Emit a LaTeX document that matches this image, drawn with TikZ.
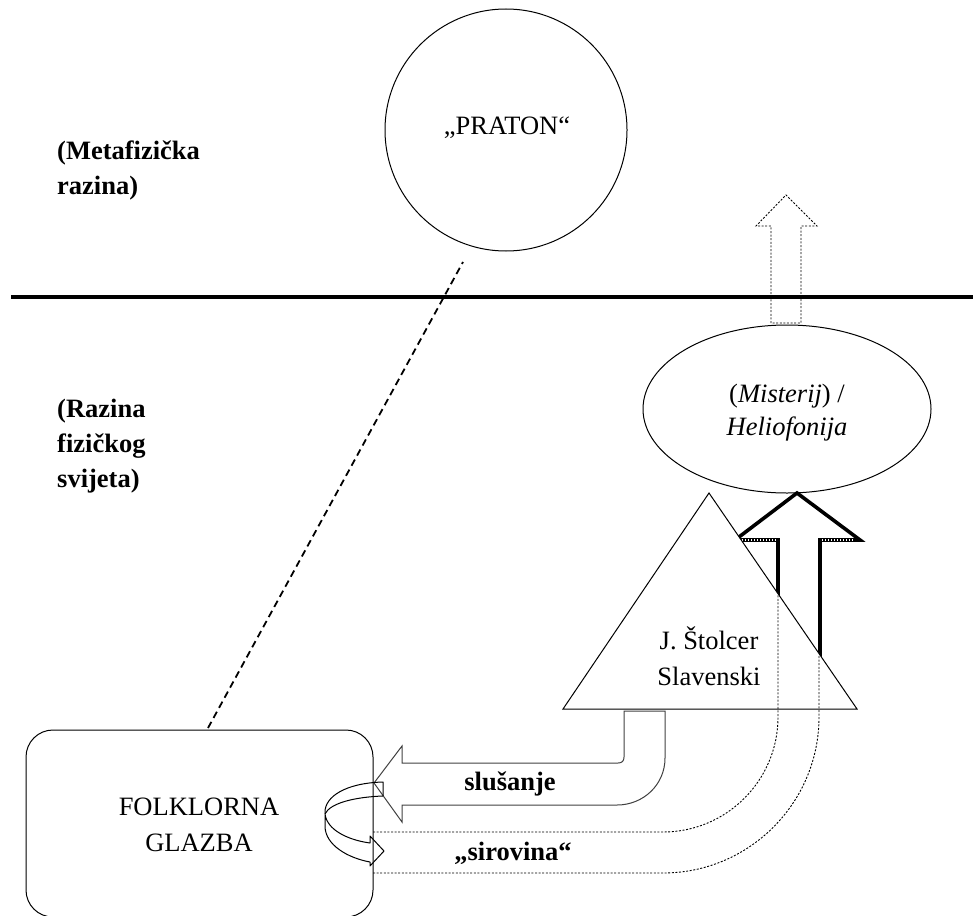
\documentclass[tikz,border=0pt]{standalone}
\usepackage{fontspec}
\setmainfont{Liberation Serif}
\usetikzlibrary{shapes.geometric}
\begin{document}
\begin{tikzpicture}[x=1pt,y=-1pt,
  thinline/.style={line width=1pt},
  dotline/.style={line width=0.9pt, dash pattern=on 2pt off 1.6pt},
  lbl/.style={font=\fontsize{26.5}{35}\selectfont\bfseries, align=left, anchor=west, inner sep=0pt},
  txt/.style={font=\fontsize{26.5}{36}\selectfont, align=center, inner sep=0pt},
  btxt/.style={font=\fontsize{26.5}{36}\selectfont\bfseries, align=center, inner sep=0pt}]
\useasboundingbox (0,0) rectangle (973,915);
% level line
\draw[line width=4pt] (11,297) -- (973,297);
% PRATON
\node[draw, thinline, circle, minimum size=242pt, inner sep=0pt] (praton) at (506,130) {};
\node[txt] (pratontxt) at (507,128) {„PRATON“};
% level labels
\node[lbl] (meta) at (57,170) {(Metafizička\\razina)};
\node[lbl] (fiz) at (57,446) {(Razina\\fizičkog\\svijeta)};
% folk rectangle
\node[draw, thinline, rounded corners=27pt, minimum width=347pt, minimum height=187pt, inner sep=0pt] (folk) at (199.5,823.5) {};
\node[txt] (folktxt) at (199,825) {FOLKLORNA\\GLAZBA};
% dashed link
\coordinate (dtop) at (463,262);
\coordinate (dbot) at (208,728);
\draw[line width=1.8pt, dash pattern=on 7pt off 4.5pt] (dbot) -- (dtop);
% ellipse
\node[draw, thinline, fill=white, ellipse, minimum width=288pt, minimum height=168pt, inner sep=0pt] (work) at (787,409) {};
\node[font=\fontsize{26.5}{33}\selectfont, align=center, inner sep=0pt] (worktxt) at (787,413) {(\textit{Misterij}) /\\\textit{Heliofonija}};
% dotted arrow up from ellipse
\draw[dotline] (771,323) -- (771,226) -- (756,226) -- (786,195) -- (817,226) -- (801,226) -- (801,323) -- cycle;
% thick arrow into ellipse (partly behind triangle)
\draw[line width=3.6pt, miter limit=10] (778,700) -- (778,540) -- (735,540) -- (797,493) -- (860,540) -- (820,540) -- (820,700);
\draw[white, line width=1.2pt, dash pattern=on 1pt off 2pt] (742,540) -- (776,540) (822,540) -- (854,540);
% triangle
\coordinate (tA) at (709,493);
\coordinate (tB) at (563,709);
\coordinate (tC) at (857,709);
\draw[thinline, fill=white] (tA) -- (tB) -- (tC) -- cycle;
\node[txt, align=center] (stolcer) at (709,656) {J. Štolcer\\Slavenski};
% dotted band (sirovina)
\draw[dotline] (373,832) -- (663,832) .. controls (726.5,832) and (778,780.5) .. (778,717) -- (778,592);
\draw[dotline] (373,873) -- (663,873) .. controls (749,873) and (819,803) .. (819,717) -- (819,655);
\node[btxt] (sirovina) at (513,853) {„sirovina“};
% slusanje arrow
\draw[line width=1pt, black!75] (624,711) -- (624,757) .. controls (624,761) and (622,763) .. (618,763) -- (402,763) -- (402,746) -- (374,783) -- (402,822) -- (402,805) -- (617,805) .. controls (643,805) and (665,785) .. (665,758) -- (665,711) -- cycle;
\node[btxt] (slusanje) at (510,784) {slušanje};
% curved arrow
\draw[thinline, line join=round] (383,796) -- (383,782) .. controls (345,783) and (325,797) .. (325,812) -- (325,826) .. controls (325,845) and (348,858) .. (370,862) -- (370,866) -- (384,851) -- (370,836) -- (370,843) .. controls (348,840) and (327,830) .. (325,814);
\draw[thinline] (383,796) .. controls (355,797) and (330,803) .. (325,814);
\end{tikzpicture}
\end{document}
